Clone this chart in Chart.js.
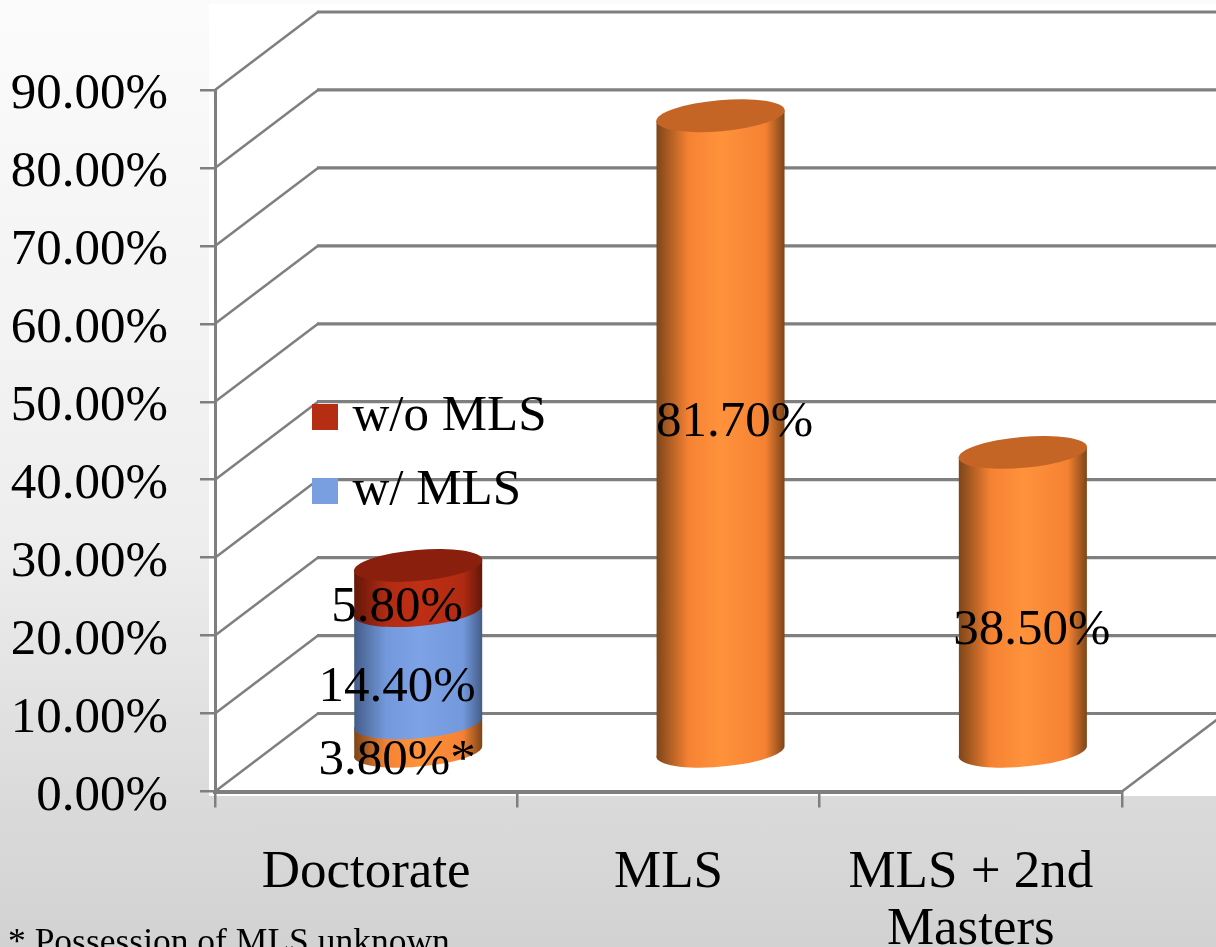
<!DOCTYPE html>
<html>
<head>
<meta charset="utf-8">
<style>
html,body{margin:0;padding:0;width:1216px;height:947px;overflow:hidden;background:linear-gradient(180deg,#fbfbfb 0%,#eeeeee 56%,#dadada 85%,#d2d2d2 100%);}
canvas{display:block;}
</style>
<script src="https://cdn.jsdelivr.net/npm/chart.js@4"></script>
</head>
<body>
<div style="width:1216px;height:947px;position:relative"><canvas id="c" width="1216" height="947"></canvas></div>
<script>
const categories = ['Doctorate', 'MLS', ['MLS + 2nd', 'Masters']];
const baseValues = [3.8, 81.7, 38.5];
const withMls = [14.4, null, null];
const withoutMls = [5.8, null, null];
const baseSuffix = ['*', '', ''];
const yMax = 90;
const yStep = 10;
const footnote = '* Possession of MLS unknown';

const FONT = '"Liberation Serif"';
const DEPTH_X = 103, DEPTH_Y = 78, CYL_DX = 52, CYL_DY = 39, TILT = -0.088, RY = 15.5;
const GRID = '#7f7f7f';
const palette = [
  {edge:'#7d4518', mid:'#f58233', center:'#ff923b', top:'#c46526'},
  {edge:'#445d88', mid:'#7399dc', center:'#7da3e6', top:'#5f80b8'},
  {edge:'#641709', mid:'#b02b12', center:'#bf2f15', top:'#8a1f0e'}
];
// pixel nudges of the value labels from each bar's middle: [dataset][category]
const labelNudge = [[[31,-15],[66,-50],[61,-10]], [[31,-18]], [[31,-19]]];

function swatch(color){
  const s=document.createElement('canvas');
  s.width=26; s.height=26;
  const x=s.getContext('2d');
  x.fillStyle=color; x.fillRect(0,0,26,26);
  return s;
}

const wall = {
  id:'wall',
  beforeDraw(chart){
    const {ctx, chartArea:a, scales:{y}} = chart;
    ctx.save();
    ctx.fillStyle='#fff';
    ctx.fillRect(209,4,1216-209,792);
    ctx.strokeStyle=GRID;
    y.ticks.forEach(t=>{
      const py=y.getPixelForValue(t.value);
      ctx.lineWidth=2.5;
      ctx.beginPath();
      ctx.moveTo(a.left,py);
      ctx.lineTo(a.left+DEPTH_X,py-DEPTH_Y);
      ctx.stroke();
      ctx.lineWidth=3.2;
      ctx.beginPath();
      ctx.moveTo(a.left+DEPTH_X-1,py-DEPTH_Y);
      ctx.lineTo(1216,py-DEPTH_Y);
      ctx.stroke();
    });
    ctx.lineWidth=2.5;
    ctx.beginPath();
    ctx.moveTo(a.right,a.bottom);
    ctx.lineTo(a.right+DEPTH_X,a.bottom-DEPTH_Y);
    ctx.stroke();
    ctx.restore();
  }
};

function sideGrad(ctx,l,r,c){
  const g=ctx.createLinearGradient(l,0,r,0);
  g.addColorStop(0,c.edge);
  g.addColorStop(0.25,c.mid); g.addColorStop(0.5,c.center);
  g.addColorStop(0.85,c.mid); g.addColorStop(1,c.edge);
  return g;
}

const cylinders = {
  id:'cylinders',
  afterDatasetsDraw(chart){
    const {ctx} = chart;
    const n = chart.data.labels.length;
    for(let i=0;i<n;i++){
      let lastTop=null, lastC=null, cx=0, rx=0;
      chart.data.datasets.forEach((ds,d)=>{
        if(ds.data[i]==null) return;
        const el=chart.getDatasetMeta(d).data[i];
        cx=el.x+CYL_DX; rx=el.width/2;
        const top=el.y-CYL_DY, bot=el.base-CYL_DY, c=palette[d];
        const dy=rx*Math.tan(-TILT)*0.92;
        ctx.save();
        ctx.fillStyle=sideGrad(ctx,cx-rx,cx+rx,c);
        ctx.beginPath();
        ctx.moveTo(cx-rx,top+dy);
        ctx.lineTo(cx+rx,top-dy);
        ctx.lineTo(cx+rx,bot-dy);
        ctx.ellipse(cx,bot,rx+0.4,RY,TILT,0.12,Math.PI+0.12);
        ctx.closePath();
        ctx.fill();
        ctx.restore();
        lastTop=top; lastC=c;
      });
      ctx.save();
      ctx.fillStyle=lastC.top;
      ctx.beginPath();
      ctx.ellipse(cx,lastTop,rx+0.4,RY,TILT,0,Math.PI*2);
      ctx.fill();
      ctx.restore();
    }
    // value labels
    ctx.save();
    ctx.font='51px '+FONT;
    ctx.fillStyle='#000';
    ctx.textAlign='center';
    ctx.textBaseline='middle';
    chart.data.datasets.forEach((ds,d)=>{
      ds.data.forEach((v,i)=>{
        if(v==null) return;
        const el=chart.getDatasetMeta(d).data[i];
        const nudge=labelNudge[d][i];
        const txt=v.toFixed(2)+'%'+(d===0?baseSuffix[i]:'');
        ctx.fillText(txt,el.x+nudge[0],(el.y+el.base)/2+nudge[1]);
      });
    });
    ctx.font='35.5px '+FONT;
    ctx.textAlign='left';
    ctx.textBaseline='alphabetic';
    ctx.fillText(footnote,8,953);
    ctx.restore();
  }
};

const placeLegend = {
  id:'placeLegend',
  afterLayout(chart){
    const l=chart.legend;
    l.left=300; l.top=368.5; l.right=700; l.bottom=700;
  }
};

new Chart(document.getElementById('c'),{
  type:'bar',
  data:{
    labels:categories,
    datasets:[
      {label:'Series', data:baseValues, backgroundColor:'rgba(0,0,0,0)', barPercentage:0.8, categoryPercentage:0.5295},
      {label:'w/ MLS', data:withMls, backgroundColor:'rgba(0,0,0,0)', legendColor:'#7a9fe0', barPercentage:0.8, categoryPercentage:0.5295},
      {label:'w/o MLS', data:withoutMls, backgroundColor:'rgba(0,0,0,0)', legendColor:'#b52d12', barPercentage:0.8, categoryPercentage:0.5295}
    ]
  },
  plugins:[wall,cylinders,placeLegend],
  options:{
    responsive:false,
    animation:false,
    devicePixelRatio:1,
    layout:{padding:{top:90,right:94,left:0,bottom:0}},
    plugins:{
      tooltip:{enabled:false},
      title:{display:false},
      legend:{
        display:true,
        position:'chartArea',
        align:'start',
        reverse:true,
        labels:{
          usePointStyle:true,pointStyleWidth:4,boxHeight:26,padding:23,color:'#000',
          font:{family:FONT,size:51},
          filter:(item)=>item.text!=='Series',
          generateLabels(chart){
            return chart.data.datasets.map((ds,i)=>({
              text:ds.label,pointStyle:swatch(ds.legendColor||'#000'),lineWidth:0,datasetIndex:i,fontColor:'#000'
            }));
          }
        }
      }
    },
    scales:{
      x:{
        stacked:true,
        afterFit(s){s.height=155.5;},
        grid:{display:true,offset:true,drawOnChartArea:false,drawTicks:true,tickLength:16,color:GRID,lineWidth:2.5},
        border:{display:true,color:GRID,width:4},
        ticks:{color:'#000',font:{family:FONT,size:53,lineHeight:1.08},padding:37,maxRotation:0,minRotation:0,autoSkip:false}
      },
      y:{
        stacked:true,
        min:0,max:yMax,
        afterFit(s){s.width=215;},
        grid:{display:true,drawOnChartArea:false,drawTicks:true,tickLength:15,color:GRID,lineWidth:2.5},
        border:{display:true,color:GRID,width:3},
        ticks:{stepSize:yStep,color:'#000',font:{family:FONT,size:51},padding:32,labelOffset:5,callback:v=>v.toFixed(2)+'%'}
      }
    }
  }
});
</script>
</body>
</html>
